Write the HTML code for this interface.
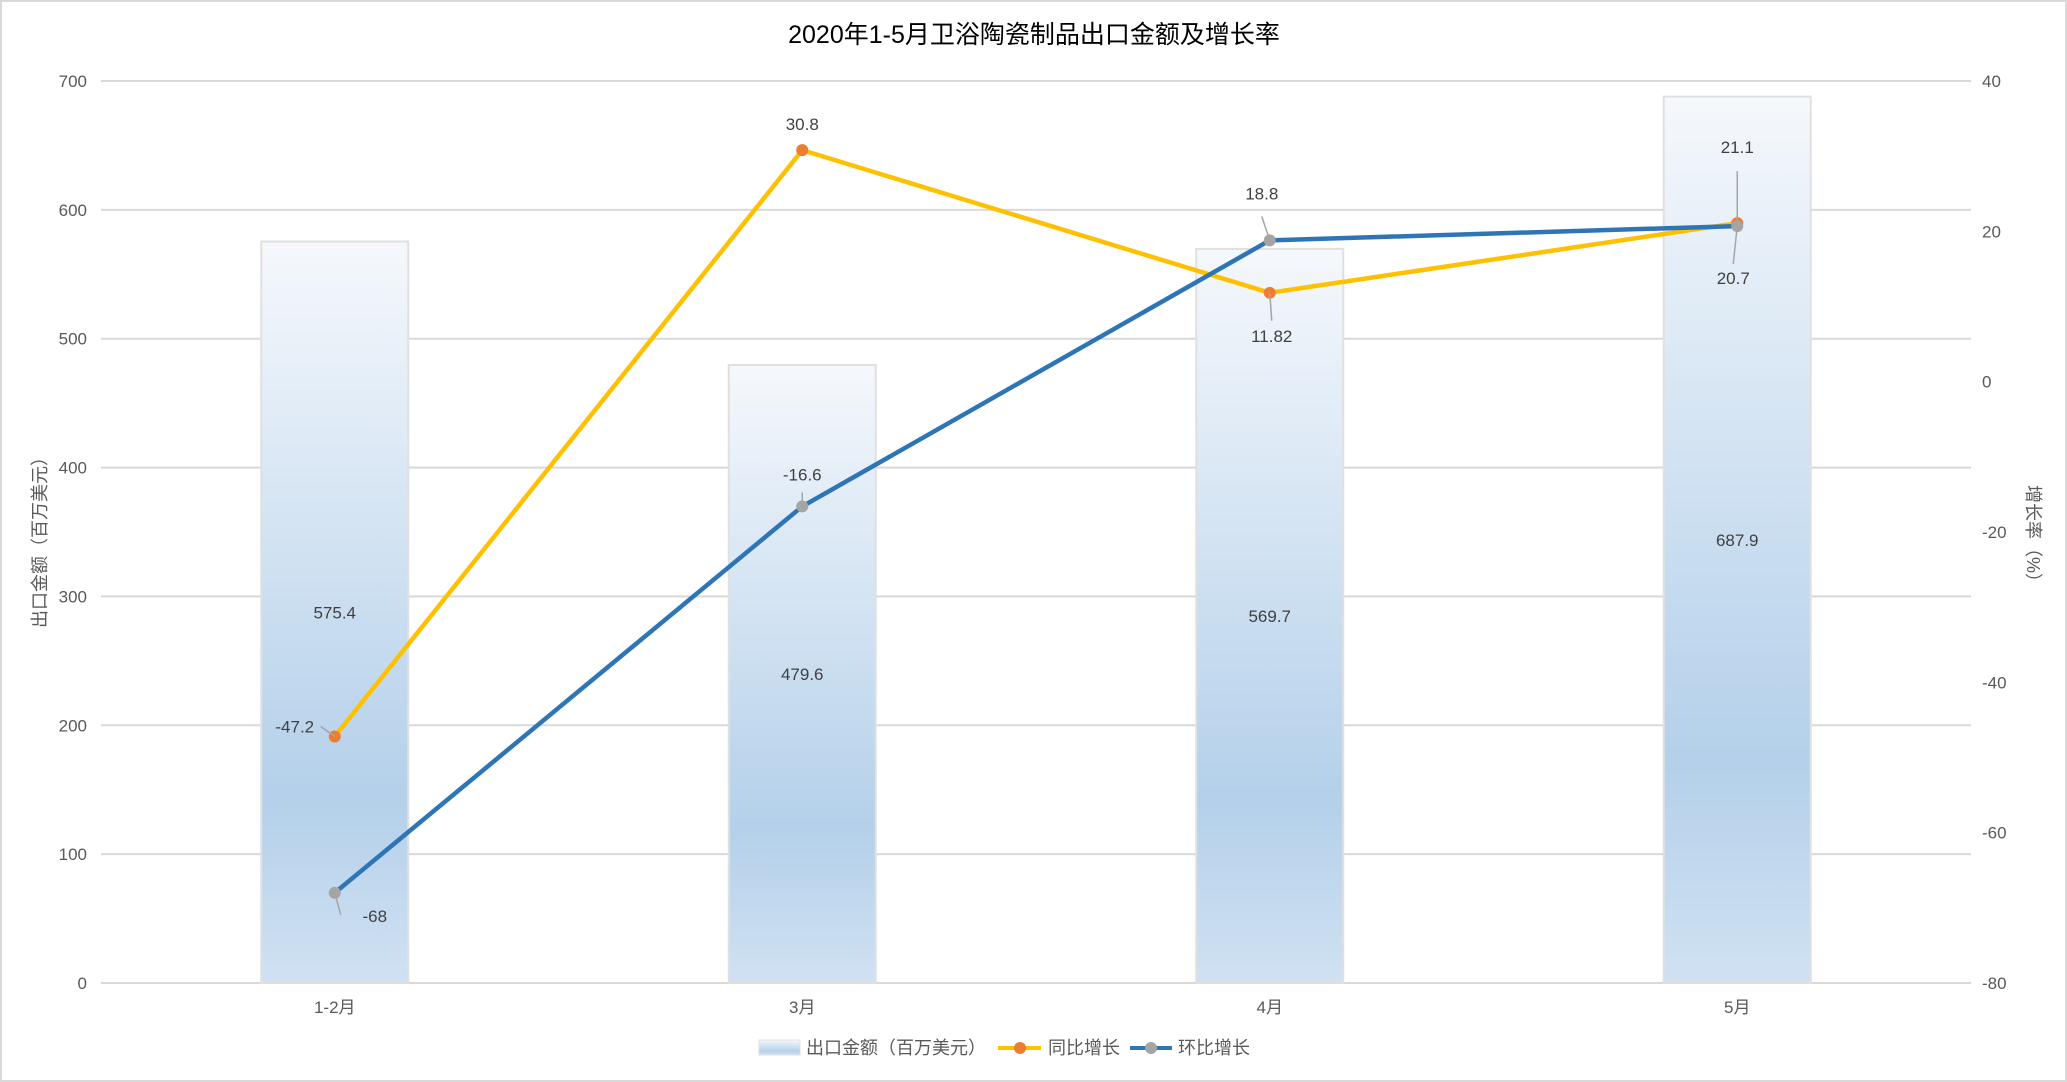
<!DOCTYPE html>
<html><head><meta charset="utf-8"><style>
html,body{margin:0;padding:0;background:#fff;}
svg{display:block;font-family:"Liberation Sans","Noto Sans CJK SC",sans-serif;}
</style></head><body>
<svg id="chart" width="2067" height="1082" viewBox="0 0 2067 1082" xmlns="http://www.w3.org/2000/svg">
<defs>
<linearGradient id="barGrad" x1="0" y1="0" x2="0" y2="1">
<stop offset="0" stop-color="#f5f8fc"/>
<stop offset="0.75" stop-color="#b4d0ea"/>
<stop offset="1" stop-color="#d0e1f2"/>
</linearGradient>
</defs>
<rect x="1" y="1" width="2065" height="1080" fill="#fff" stroke="#d9d9d9" stroke-width="2"/>
<text x="1034" y="43" text-anchor="middle" font-size="25" fill="#000">2020年1-5月卫浴陶瓷制品出口金额及增长率</text>
<g id="grid"></g><g id="bars"></g><g id="lines"></g><g id="labels"></g><g id="axes"></g>
<text transform="translate(46,538) rotate(-90)" text-anchor="middle" font-size="18" fill="#595959">出口金额（百万美元）</text>
<text transform="translate(2027,538) rotate(90)" text-anchor="middle" font-size="18" fill="#595959">增长率（%）</text>
<g>
<rect x="759" y="1040" width="41" height="15" fill="url(#barGrad)" stroke="#e0e0e0"/>
<text x="806" y="1054" font-size="18" fill="#595959">出口金额（百万美元）</text>
<line x1="998" y1="1048" x2="1041" y2="1048" stroke="#FFC000" stroke-width="4"/>
<circle cx="1020" cy="1048" r="6" fill="#ED7D31"/>
<text x="1048" y="1054" font-size="18" fill="#595959">同比增长</text>
<line x1="1130" y1="1048" x2="1172" y2="1048" stroke="#2E75B6" stroke-width="4"/>
<circle cx="1151" cy="1048" r="6" fill="#A5A5A5"/>
<text x="1178" y="1054" font-size="18" fill="#595959">环比增长</text>
</g>
</svg>
<script>
const categories = ["1-2月","3月","4月","5月"];
const exportValues = [575.4, 479.6, 569.7, 687.9];
const yoyValues = [-47.2, 30.8, 11.82, 21.1];
const momValues = [-68, -16.6, 18.8, 20.7];
const leftTicks = [0,100,200,300,400,500,600,700];
const rightTicks = [-80,-60,-40,-20,0,20,40];

const NS="http://www.w3.org/2000/svg";
const L=101,R=1971,T=81,B=983;
const xBand=(R-L)/categories.length;
const xc=i=>L+xBand*(i+0.5);
const yL=v=>B-(v-0)/(700-0)*(B-T);
const yR=v=>B-(v+80)/120*(B-T);
function mk(tag,attrs,parent,text){const e=document.createElementNS(NS,tag);for(const k in attrs)e.setAttribute(k,attrs[k]);if(text!==undefined)e.textContent=text;document.getElementById(parent).appendChild(e);return e;}

leftTicks.forEach(t=>{
  const g=mk("line",{x1:L,x2:R,y1:yL(t),y2:yL(t),stroke:"#d9d9d9","stroke-width":2},"grid");
  
  
  const tx=mk("text",{x:87,y:yL(t)+6,"text-anchor":"end","font-size":17,fill:"#595959"},"axes",String(t));
  
  
});
rightTicks.forEach(t=>{
  const tx=mk("text",{x:1982,y:yR(t)+6,"font-size":17,fill:"#595959"},"axes",String(t));
  
  
});
const bw=147;
categories.forEach((c,i)=>{
  const b=mk("rect",{x:xc(i)-bw/2,y:yL(exportValues[i]),width:bw,height:B-yL(exportValues[i]),fill:"url(#barGrad)",stroke:"#e0e0e0","stroke-width":2},"bars");
  
  
  const v=mk("text",{x:xc(i),y:(yL(exportValues[i])+B)/2+6,"text-anchor":"middle","font-size":17,fill:"#404040"},"labels",String(exportValues[i]));
  
  
  const xl=mk("text",{x:xc(i),y:1013,"text-anchor":"middle","font-size":17,fill:"#595959"},"axes",c);
  
  
});
function series(vals,color,mcolor,name,offs){
  const pts=vals.map((v,i)=>[xc(i),yR(v)]);
  const p=mk("polyline",{points:pts.map(p=>p.join(",")).join(" "),fill:"none",stroke:color,"stroke-width":4.5,"stroke-linejoin":"round"},"lines");
  
  
  pts.forEach((pt,i)=>{
    const c=mk("circle",{cx:pt[0],cy:pt[1],r:6,fill:mcolor},"lines");
    
    
    const o=offs[i];
    if(o[2]){const ld=mk("line",{x1:pt[0],y1:pt[1],x2:pt[0]+o[2][0],y2:pt[1]+o[2][1],stroke:"#a5a5a5","stroke-width":1.5},"labels");
      
      }
    const t=mk("text",{x:pt[0]+o[0],y:pt[1]+o[1],"text-anchor":"middle","font-size":17,fill:"#404040"},"labels",String(vals[i]));
    
    
  });
}
series(yoyValues,"#FFC000","#ED7D31","yoy",[[-40,-4,[-14,-10]],[0,-20,null],[2,49,[2,28]],[0,-70,[0,-52]]]);
series(momValues,"#2E75B6","#A5A5A5","mom",[[40,29,[6,22]],[0,-26,[0,-14]],[-8,-41,[-8,-24]],[-4,58,[-4,38]]]);
</script>
</body></html>
